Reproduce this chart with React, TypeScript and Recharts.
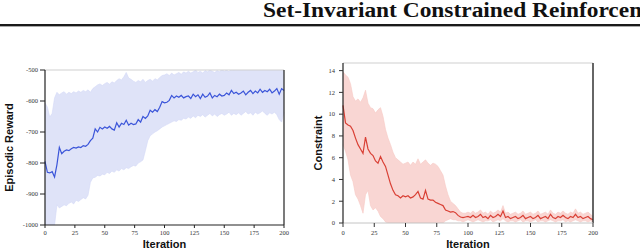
import { ComposedChart, Area, Line, XAxis, YAxis, ReferenceLine } from "recharts"

// one sample every 2 iterations, 0..200
const STEP = 2

const iterationTicks = [0, 25, 50, 75, 100, 125, 150, 175, 200]
const rewardTicks = [-1000, -900, -800, -700, -600, -500]
const constraintTicks = [0, 2, 4, 6, 8, 10, 12, 14]

const rewardMean = [
  -795, -830, -832, -828, -845, -805, -750, -770, -762, -758,
  -760, -754, -750, -752, -748, -750, -744, -746, -740, -728,
  -720, -690, -700, -685, -690, -684, -688, -682, -690, -694,
  -670, -684, -672, -676, -662, -678, -672, -676, -674, -660,
  -668, -650, -656, -648, -630, -636, -628, -634, -620, -602,
  -606, -604, -598, -582, -590, -584, -588, -582, -590, -586,
  -584, -592, -578, -586, -580, -592, -578, -588, -584, -574,
  -590, -582, -586, -578, -584, -582, -574, -580, -566, -576,
  -572, -578, -574, -568, -580, -572, -566, -576, -568, -574,
  -562, -572, -566, -570, -562, -574, -568, -560, -578, -560,
  -566,
]
const rewardUpper = [
  -606, -620, -652, -640, -590, -572, -580, -574, -570, -578,
  -572, -576, -570, -574, -568, -572, -566, -570, -564, -572,
  -560, -554, -548, -545, -550, -544, -540, -546, -538, -542,
  -534, -528, -532, -522, -508, -526, -530, -536, -540, -534,
  -538, -530, -540, -534, -530, -536, -528, -532, -524, -518,
  -516, -512, -518, -510, -516, -512, -508, -514, -506, -510,
  -504, -510, -506, -500, -508, -504, -510, -502, -506, -500,
  -504, -508, -502, -506, -498, -504, -500, -506, -494, -500,
  -496, -492, -498, -494, -490, -496, -492, -498, -490, -494,
  -496, -490, -494, -498, -492, -496, -490, -494, -498, -492,
  -496,
]
const rewardLower = [
  -1010, -1010, -1010, -1005, -1000, -935, -945, -940, -935, -938,
  -930, -926, -932, -920, -924, -918, -912, -916, -904, -862,
  -848, -846, -840, -842, -836, -838, -830, -834, -826, -830,
  -822, -826, -818, -822, -815, -818, -812, -808, -810, -800,
  -796, -790, -760, -728, -712, -706, -700, -696, -690, -684,
  -680, -676, -672, -668, -664, -666, -660, -662, -656, -658,
  -652, -656, -648, -654, -646, -650, -644, -652, -646, -640,
  -648, -642, -650, -644, -640, -646, -642, -636, -646, -640,
  -644, -638, -646, -640, -634, -642, -638, -646, -636, -642,
  -638, -632, -640, -646, -638, -642, -636, -644, -660, -668,
  -636,
]

const constraintMean = [
  10.8, 9.2, 9.0, 8.9, 8.5, 7.8, 7.2, 6.8, 6.4, 7.9,
  6.8, 6.4, 6.2, 5.7, 5.5, 6.1, 5.6, 5.2, 4.4, 3.6,
  3.0, 2.6, 2.5, 2.3, 2.5, 2.4, 2.5, 2.3, 2.4, 2.6,
  2.9, 2.3, 2.2, 3.0, 2.2, 2.1, 2.1, 1.9, 1.8, 1.7,
  1.6, 1.2, 1.1, 1.0, 1.05, 0.95, 0.7, 0.55, 0.5, 0.55,
  0.6, 0.5, 0.7, 0.5, 0.6, 0.8, 0.5, 0.6, 0.4, 0.7,
  0.5, 0.6, 0.8, 0.6, 1.1, 0.5, 0.6, 0.4, 0.5, 0.6,
  0.4, 0.5, 0.7, 0.4, 0.5, 0.6, 0.4, 0.5, 0.7, 0.4,
  0.5, 0.6, 0.4, 0.8, 0.5, 0.4, 0.6, 0.5, 0.7, 0.5,
  0.4, 0.6, 0.5, 0.8, 0.5, 0.6, 0.4, 0.5, 0.6, 0.4,
  0.3,
]
const constraintUpper = [
  13.9, 13.6, 13.4, 12.8, 11.6, 11.2, 11.4, 11.1, 11.5, 12.2,
  11.0, 10.6, 10.5, 10.1, 10.4, 10.6, 9.8, 8.6, 7.8, 7.2,
  6.5, 6.0, 5.8, 5.6, 5.4, 5.5, 5.6, 5.3, 5.6, 5.4,
  5.9, 5.4, 5.6, 5.8, 5.5, 5.3, 5.5, 5.4, 5.2, 4.8,
  4.4, 3.4, 2.6, 2.0, 1.8, 1.6, 1.3, 1.0, 0.9, 0.9,
  1.0, 0.9, 1.1, 0.9, 1.0, 1.2, 0.9, 1.0, 0.8, 1.1,
  0.9, 1.0, 1.2, 1.0, 1.6, 0.9, 1.0, 0.8, 0.9, 1.0,
  0.8, 0.9, 1.1, 0.8, 0.9, 1.0, 0.8, 0.9, 1.1, 0.8,
  0.9, 1.0, 0.8, 1.2, 0.9, 0.8, 1.0, 0.9, 1.1, 0.9,
  0.8, 1.0, 0.9, 1.3, 0.9, 1.0, 0.8, 0.9, 1.0, 0.8,
  0.6,
]
const constraintLower = [
  7.2, 6.6, 5.8, 4.4, 3.8, 2.6, 2.2, 1.6, 0.9, 2.6,
  3.0, 1.6, 1.2, 1.4, 1.1, 0.6, 0.4, 0.1, 0, 0,
  0, 0, 0, 0, 0, 0, 0, 0, 0, 0,
  0, 0, 0, 0, 0, 0, 0, 0, 0, 0,
  0, 0.2, 0.3, 0.4, 0.3, 0.3, 0.2, 0.2, 0.1, 0.2,
  0.3, 0.2, 0.1, 0.2, 0.3, 0.2, 0.1, 0.2, 0.2, 0.3,
  0.1, 0.2, 0.3, 0.2, 0.4, 0.2, 0.1, 0.2, 0.2, 0.1,
  0.2, 0.3, 0.1, 0.2, 0.2, 0.1, 0.2, 0.3, 0.1, 0.2,
  0.2, 0.1, 0.2, 0.3, 0.2, 0.1, 0.2, 0.2, 0.3, 0.1,
  0.2, 0.1, 0.2, 0.3, 0.2, 0.1, 0.2, 0.2, 0.1, 0.2,
  0.1,
]

const buildRows = (mean: number[], lower: number[], upper: number[]) =>
  mean.map((m, i) => ({ it: i * STEP, mean: m, band: [lower[i], upper[i]] }))

const rewardRows = buildRows(rewardMean, rewardLower, rewardUpper)
const constraintRows = buildRows(constraintMean, constraintLower, constraintUpper)

const tickFont = { fontFamily: "Liberation Serif", fontSize: 6.5, fill: "#333" }
const labelFont = { fontFamily: "Liberation Sans", fontSize: 11, fontWeight: 700, fill: "#111" }

export default function App() {
  return (
    <div style={{ position: "relative", width: 640, height: 249, overflow: "hidden", background: "#fff" }}>
      <style>{"body{margin:0}"}</style>
      <div
        style={{
          position: "absolute",
          left: 263,
          top: 0,
          fontFamily: "Liberation Serif",
          fontWeight: 700,
          fontSize: 20,
          lineHeight: "20px",
          whiteSpace: "nowrap",
          color: "#111",
          transform: "scaleX(1.17)",
          transformOrigin: "left top",
        }}
      >
        Set-Invariant Constrained Reinforcement Learning
      </div>
      <div style={{ position: "absolute", left: 0, top: 24, width: 640, height: 2, background: "#1a1a1a" }} />
      <div style={{ position: "absolute", left: 0, top: 26, width: 640, height: 1, background: "#aaa" }} />

      <div style={{ position: "absolute", left: 0, top: 50 }}>
        <ComposedChart width={300} height={199} data={rewardRows} margin={{ top: 20, right: 16, bottom: 0, left: 0 }}>
          <XAxis
            dataKey="it"
            type="number"
            domain={[0, 200]}
            ticks={iterationTicks}
            tick={tickFont}
            tickSize={3}
            tickMargin={2}
            height={24}
            axisLine={{ stroke: "#222", strokeWidth: 1.2 }}
            tickLine={{ stroke: "#222" }}
            label={{ value: "Iteration", position: "insideBottom", offset: 1.5, style: labelFont }}
          />
          <YAxis
            type="number"
            domain={[-1000, -500]}
            ticks={rewardTicks}
            allowDataOverflow
            tick={tickFont}
            tickSize={5}
            tickMargin={2}
            width={45}
            axisLine={{ stroke: "#222", strokeWidth: 1.2 }}
            tickLine={{ stroke: "#222" }}
            label={{ value: "Episodic Reward", angle: -90, position: "center", dx: -13.5, style: labelFont }}
          />
          <Area dataKey="band" type="linear" fill="#dfe3f8" fillOpacity={1} stroke="#d3d9f6" strokeWidth={0.6} isAnimationActive={false} />
          <Line dataKey="mean" type="linear" stroke="#3b55d9" strokeWidth={1.2} dot={false} isAnimationActive={false} />
          <ReferenceLine y={-500} stroke="#cfcfcf" strokeWidth={1} />
          <ReferenceLine x={200} stroke="#222" strokeWidth={1.2} />
        </ComposedChart>
      </div>

      <div style={{ position: "absolute", left: 300, top: 50 }}>
        <ComposedChart width={310} height={199} data={constraintRows} margin={{ top: 13, right: 17, bottom: 0, left: 0 }}>
          <XAxis
            dataKey="it"
            type="number"
            domain={[0, 200]}
            ticks={iterationTicks}
            tick={tickFont}
            tickSize={4}
            tickMargin={3}
            height={26}
            axisLine={{ stroke: "#c4c4c4", strokeWidth: 1 }}
            tickLine={{ stroke: "#333" }}
            label={{ value: "Iteration", position: "insideBottom", offset: 1.5, style: labelFont }}
          />
          <YAxis
            type="number"
            domain={[0, 14.7]}
            ticks={constraintTicks}
            allowDataOverflow
            tick={tickFont}
            tickSize={4}
            tickMargin={4}
            width={43}
            axisLine={{ stroke: "#222", strokeWidth: 1.2 }}
            tickLine={{ stroke: "#333" }}
            label={{ value: "Constraint", angle: -90, position: "center", dx: -3.5, style: labelFont }}
          />
          <Area dataKey="band" type="linear" fill="#f9d6d3" fillOpacity={1} stroke="#f6c9c5" strokeWidth={0.6} isAnimationActive={false} />
          <Line dataKey="mean" type="linear" stroke="#d94035" strokeWidth={1.2} dot={false} isAnimationActive={false} />
          <ReferenceLine y={14.7} stroke="#cfcfcf" strokeWidth={1} />
          <ReferenceLine x={200} stroke="#333" strokeWidth={1.5} />
        </ComposedChart>
      </div>
    </div>
  )
}
